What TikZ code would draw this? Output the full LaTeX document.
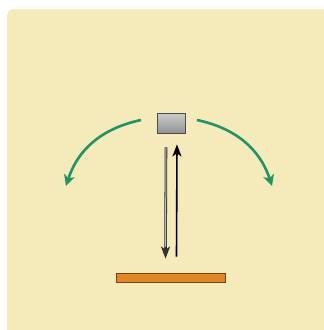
\documentclass[tikz,border=0pt]{standalone}
\usepackage{tikz}
\usetikzlibrary{arrows.meta, positioning, calc}
\definecolor{paperbg}{RGB}{245, 234, 186}
\definecolor{sweepgreen}{RGB}{30, 150, 100}
\definecolor{barorange}{RGB}{225, 135, 35}
\definecolor{barbrown}{RGB}{110, 70, 30}
\tikzset{
  sensornode/.style={draw=black!70, line width=0.8pt, top color=gray!40, bottom color=gray!85, minimum width=28pt, minimum height=20pt, inner sep=0pt},
  barnode/.style={draw=barbrown, line width=0.8pt, fill=barorange, minimum width=109pt, minimum height=9pt, inner sep=0pt},
  sweep/.style={-{Stealth[length=11pt, width=11pt, inset=3pt]}, line width=2.6pt, sweepgreen},
  beam/.style={-{Stealth[length=12pt, width=9pt, inset=3pt]}, line width=1.6pt, black},
}

\begin{document}
\begin{tikzpicture}[x=1pt, y=-1pt]
  \useasboundingbox (0,0) rectangle (324,330);
  \fill[paperbg] (7,330) [rounded corners=7pt] -- (7,9) [sharp corners] -- (324,9) -- (324,330) -- cycle;
  \node[sensornode] (sensor) at (171,123) {};
  \node[barnode] (target) at (170.5,277.5) {};
  % sweep arcs
  \coordinate (ls) at (141,120);
  \coordinate (le) at (66,186);
  \coordinate (rs) at (197,120);
  \coordinate (re) at (272,186);
  \draw[sweep] (ls) to[out=192, in=72] (le);
  \draw[sweep] (rs) to[out=-12, in=108] (re);
  % beams
  \draw[beam, draw=black!80, line width=2.6pt] ($(sensor.south)+(-5,14)$) -- ($(target.north)+(-5,-14)$);
  \draw[gray!55, line width=1pt] ($(sensor.south)+(-5,14.6)$) -- ($(target.north)+(-5,-26)$);
  \draw[beam] ($(target.north)+(6,-16)$) -- ($(sensor.south)+(6,11)$);
\end{tikzpicture}
\end{document}
